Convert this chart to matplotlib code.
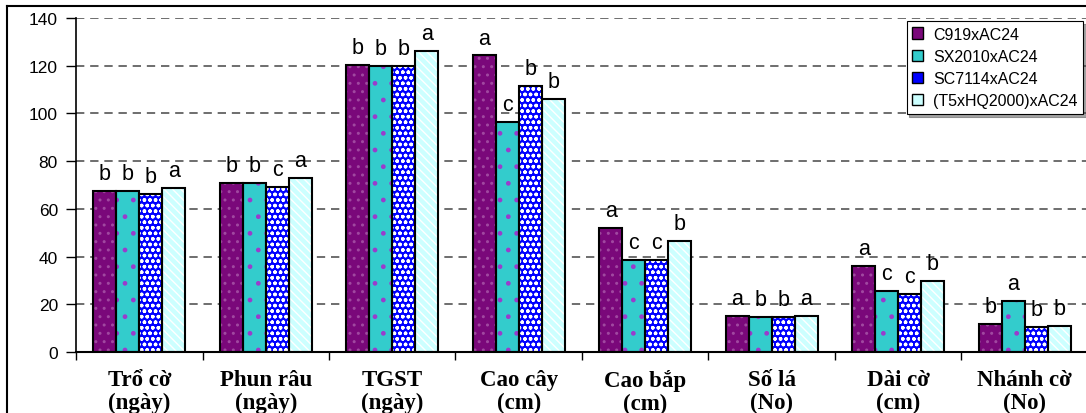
import matplotlib
matplotlib.use("Agg")
import matplotlib.pyplot as plt
import numpy as np
from matplotlib.patches import Patch
from matplotlib.lines import Line2D

categories = ["Trổ cờ\n(ngày)", "Phun râu\n(ngày)", "TGST\n(ngày)", "Cao cây\n(cm)",
              "Cao bắp\n(cm)", "Số lá\n(No)", "Dài cờ\n(cm)", "Nhánh cờ\n(No)"]
series = ["C919xAC24", "SX2010xAC24", "SC7114xAC24", "(T5xHQ2000)xAC24"]

c919 = [67.3, 71.0, 120.2, 124.3, 51.8, 15.0, 35.9, 11.9]
sx2010 = [67.3, 71.0, 119.9, 96.4, 38.4, 14.5, 25.4, 21.4]
sc7114 = [66.3, 69.3, 119.9, 111.7, 38.4, 14.5, 24.3, 10.3]
t5hq = [68.9, 72.9, 126.0, 105.9, 46.4, 15.1, 29.9, 10.9]

let_c919 = ["b", "b", "b", "a", "a", "a", "a", "b"]
let_sx2010 = ["b", "b", "b", "c", "c", "b", "c", "a"]
let_sc7114 = ["b", "c", "b", "b", "c", "b", "c", "b"]
let_t5hq = ["a", "a", "a", "b", "b", "a", "b", "b"]

values = [c919, sx2010, sc7114, t5hq]
letters = [let_c919, let_sx2010, let_sc7114, let_t5hq]

faces = ["#7a087a", "#33cccc", "#0000ff", "#ccffff"]
hatches = ["..", ".", "ooo", "\\\\\\\\"]
hcolors = ["#a048a0", "#9a3ccc", "#ffffff", "#ffffff"]

plt.rcParams["hatch.linewidth"] = 1.0

fig = plt.figure(figsize=(10.86, 4.14), dpi=100)
ax = fig.add_axes([76 / 1086, 1 - 353 / 414, 1012 / 1086, 334 / 414])

x = np.arange(len(categories))
w = 0.182
for k in range(4):
    pos = x + (k - 1.5) * w
    ax.bar(pos, values[k], w, color=faces[k], hatch=hatches[k],
           edgecolor=hcolors[k], linewidth=0, zorder=2)
    ax.bar(pos, values[k], w, fill=False, edgecolor="black", linewidth=1.5, zorder=3)
    for xi, v, t in zip(pos, values[k], letters[k]):
        ax.annotate(t, (xi, v), xytext=(0, 5), textcoords="offset points",
                    ha="center", va="bottom", fontsize=15.5, family="Liberation Sans")

ax.set_xlim(-0.5, 7.5)
ax.set_ylim(0, 140)
ax.set_yticks(range(0, 141, 20))
ax.set_yticklabels([str(v) for v in range(0, 141, 20)], family="Liberation Sans", fontsize=12.5)
ax.yaxis.grid(True, linestyle=(0, (5, 3.5)), color="#555555", linewidth=1.2, zorder=0)
ax.set_axisbelow(True)
ax.tick_params(axis="y", length=7, width=1, pad=6, direction="out")

ax.set_xticks(np.arange(-0.5, 8, 1.0))
ax.set_xticklabels([])
ax.tick_params(axis="x", length=6, width=1, direction="out")
for xi, lab in zip(x, categories):
    ax.text(xi, -0.05, lab, transform=ax.get_xaxis_transform(), ha="center", va="top",
            family="Liberation Serif", fontweight="bold", fontsize=16.5, linespacing=1.12)

for s in ["top", "right"]:
    ax.spines[s].set_visible(False)
ax.spines["left"].set_linewidth(1.2)
ax.spines["bottom"].set_linewidth(1.5)

handles = [Patch(facecolor=faces[k], edgecolor="black", linewidth=1) for k in range(4)]
leg = ax.legend(handles, series, loc="upper right", bbox_to_anchor=(1083 / 1086, 1 - 22 / 414),
                bbox_transform=fig.transFigure, prop={"family": "Liberation Sans", "size": 11.5},
                frameon=True, fancybox=False, shadow=True, edgecolor="black",
                handlelength=0.7, handleheight=0.7, handletextpad=0.6, labelspacing=0.45,
                borderpad=0.35, borderaxespad=0)
leg.get_frame().set_linewidth(0.8)

# outer frame of the original figure
fig.add_artist(Line2D([7 / 1086, 1.0], [1 - 7 / 414, 1 - 7 / 414], color="black", linewidth=1.5,
                      transform=fig.transFigure))
fig.add_artist(Line2D([7 / 1086, 7 / 1086], [0, 1 - 7 / 414], color="black", linewidth=1.5,
                      transform=fig.transFigure))

fig.savefig("out.png", dpi=100)
